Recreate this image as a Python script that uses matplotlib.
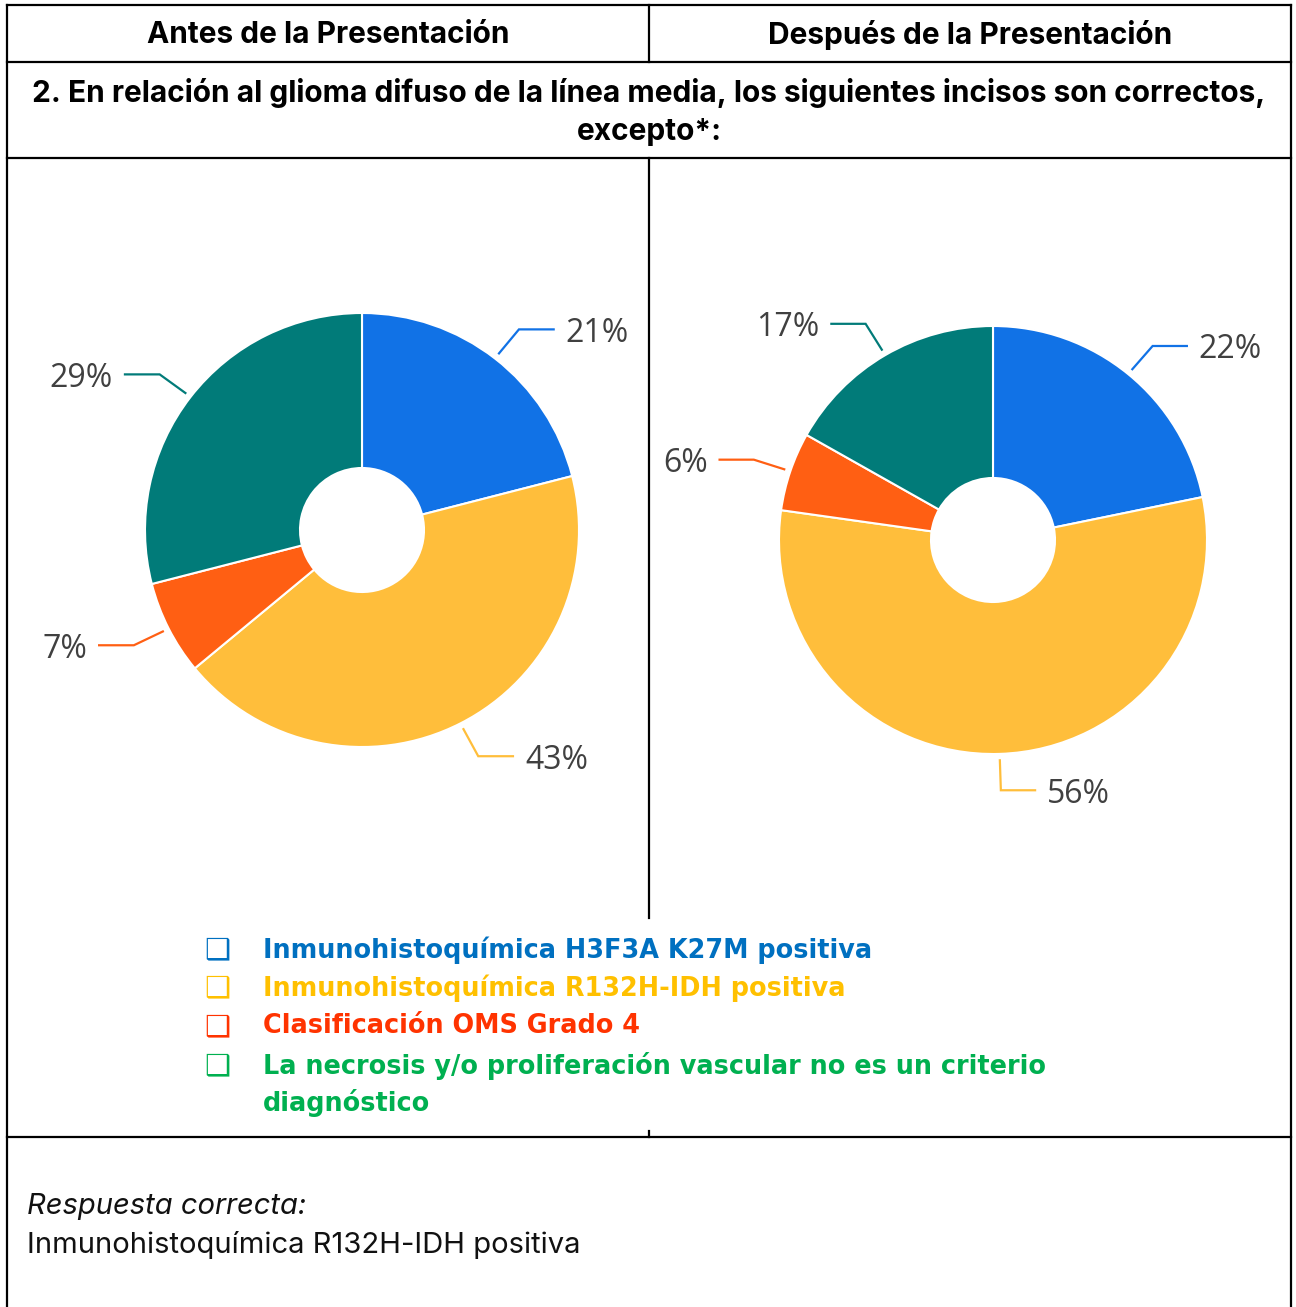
import numpy as np
import matplotlib

matplotlib.use("Agg")
import matplotlib.pyplot as plt  # noqa: E402
from matplotlib.lines import Line2D  # noqa: E402

W, H = 1296, 1307

# --- data -------------------------------------------------------------------
answers = [
    "Inmunohistoquímica H3F3A K27M positiva",
    "Inmunohistoquímica R132H-IDH positiva",
    "Clasificación OMS Grado 4",
    "La necrosis y/o proliferación vascular no es un criterio\ndiagnóstico",
]
before_pct = [21, 43, 7, 29]
after_pct = [22, 56, 6, 17]
slice_colors = ["#1172E6", "#FFBE3B", "#FF5F13", "#017B79"]
legend_colors = ["#0070C0", "#FFC000", "#FF3300", "#00B050"]

col_titles = ["Antes de la Presentación", "Después de la Presentación"]
question = ("2. En relación al glioma difuso de la línea media, los siguientes incisos son correctos,\n"
            "excepto*:")
answer_label = "Respuesta correcta:"
answer_text = "Inmunohistoquímica R132H-IDH positiva"

HEAD_FONT = "Inter"
LABEL_FONT = "Open Sans"
LABEL_GREY = "#404040"


def fx(x):
    return x / W


def fy(y):
    return 1 - y / H


def hline(fig, y, x0, x1):
    fig.add_artist(Line2D([fx(x0), fx(x1)], [fy(y), fy(y)], color="black", lw=1.6,
                          transform=fig.transFigure, solid_capstyle="projecting"))


def vline(fig, x, y0, y1):
    fig.add_artist(Line2D([fx(x), fx(x)], [fy(y0), fy(y1)], color="black", lw=1.6,
                          transform=fig.transFigure, solid_capstyle="projecting"))


def donut(fig, cx, cy, r_px, hole_px, values):
    half = 330
    ax = fig.add_axes([fx(cx - half), fy(cy + half), 2 * half / W, 2 * half / H])
    wedges, _ = ax.pie(values, colors=slice_colors, startangle=90, counterclock=False,
                       radius=1.0, wedgeprops=dict(width=1 - hole_px / r_px,
                                                   edgecolor="white", linewidth=1.5))
    lim = half / r_px
    ax.set_xlim(-lim, lim)
    ax.set_ylim(-lim, lim)
    ax.set_aspect("equal")
    ax.axis("off")
    for w, v, c in zip(wedges, values, slice_colors):
        mid = np.deg2rad((w.theta1 + w.theta2) / 2)
        cos, sin = np.cos(mid), np.sin(mid)
        p0 = (1.03 * cos, 1.03 * sin)
        p1 = (1.18 * cos, 1.17 * sin)
        side = 1 if cos >= -0.02 else -1
        p2 = (p1[0] + side * 0.16, p1[1])
        ax.plot([p0[0], p1[0], p2[0]], [p0[1], p1[1], p2[1]], color=c, lw=1.6,
                solid_joinstyle="miter", clip_on=False)
        ax.text(p2[0] + side * 0.055, p2[1], f"{v}%",
                ha="left" if side > 0 else "right", va="center_baseline",
                fontsize=23, color=LABEL_GREY, family=LABEL_FONT, clip_on=False)
    return ax


fig = plt.figure(figsize=(W / 100, H / 100), dpi=100)
fig.patch.set_facecolor("white")

# table grid
xl, xm, xr = 7, 649, 1291
for y in (5, 62, 158, 1137):
    hline(fig, y, xl, xr)
vline(fig, xl, 5, H + 5)
vline(fig, xr, 5, H + 5)
vline(fig, xm, 5, 62)
vline(fig, xm, 158, 918)
vline(fig, xm, 1131, 1137)

# headers
for x, t in zip(((xl + xm) / 2, (xm + xr) / 2), col_titles):
    fig.text(fx(x), fy(35), t, ha="center", va="center", fontsize=21.5,
             fontweight="bold", family=HEAD_FONT, color="black")
fig.text(fx(649), fy(112), question, ha="center", va="center", fontsize=21.5,
         fontweight="bold", family=HEAD_FONT, color="black", linespacing=1.42)

# donuts
donut(fig, 362, 530, 217, 62, before_pct)
donut(fig, 993, 540, 214, 62, after_pct)

# legend
legend_y = [950, 988, 1027, 1066]
for y, t, c in zip(legend_y, answers, legend_colors):
    fig.text(fx(204), fy(y), "\u2751", ha="left", va="center", fontsize=21,
             fontweight="bold", color=c, family="DejaVu Sans")
    fig.text(fx(263), fy(y - 14), t, ha="left", va="top", fontsize=18.4,
             fontweight="bold", color=c, family="DejaVu Sans", linespacing=1.42)

# correct answer
fig.text(fx(27), fy(1207), answer_label, ha="left", va="center", fontsize=21,
         style="italic", family=HEAD_FONT, color="#111111")
fig.text(fx(27), fy(1245), answer_text, ha="left", va="center", fontsize=21,
         family=HEAD_FONT, color="#111111")

fig.savefig("out.png", dpi=100, facecolor="white")
